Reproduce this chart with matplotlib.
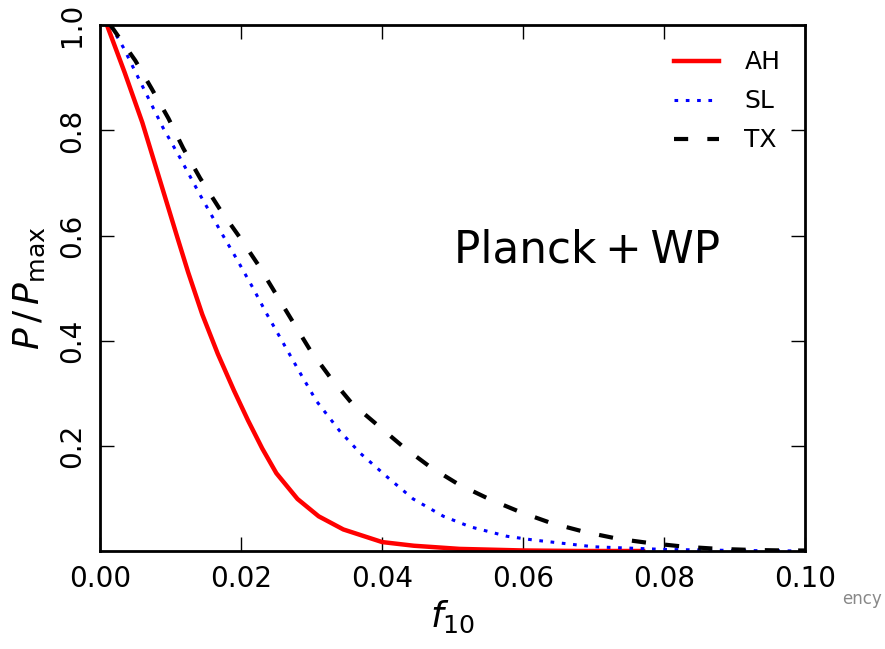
import numpy as np
import matplotlib
matplotlib.use("Agg")
import matplotlib.pyplot as plt

plt.rcParams['font.family'] = ['DejaVu Sans']
plt.rcParams['mathtext.fontset'] = 'dejavusans'

# posterior curves
f_ah = [0.001, 0.0035, 0.006, 0.0085, 0.011, 0.0125, 0.0145, 0.0167, 0.019, 0.021, 0.023, 0.025,
        0.028, 0.031, 0.0345, 0.040, 0.0445, 0.051, 0.060, 0.068, 0.077]
p_ah = [1.000, 0.910, 0.815, 0.705, 0.595, 0.530, 0.450, 0.375, 0.305, 0.248, 0.195, 0.148,
        0.099, 0.066, 0.041, 0.017, 0.010, 0.004, 0.001, 0.000, 0.000]

f_sl = [0.0015, 0.0033, 0.0061, 0.0089, 0.0113, 0.0142, 0.0174, 0.0194, 0.0217, 0.0236, 0.026,
        0.0284, 0.0307, 0.034, 0.0369, 0.0407, 0.0444, 0.0487, 0.0525, 0.0577, 0.0614, 0.070,
        0.080, 0.090, 0.100]
p_sl = [1.000, 0.958, 0.882, 0.806, 0.749, 0.677, 0.601, 0.555, 0.500, 0.452, 0.395,
        0.338, 0.285, 0.228, 0.186, 0.141, 0.099, 0.066, 0.046, 0.028, 0.021, 0.008,
        0.003, 0.001, 0.000]

f_tx = [0.0015, 0.005, 0.0073, 0.0097, 0.0118, 0.0142, 0.017, 0.0199, 0.0224, 0.0248, 0.0272,
        0.0298, 0.0326, 0.0357, 0.0393, 0.043, 0.0468, 0.0508, 0.0553, 0.0596, 0.064, 0.0688,
        0.0735, 0.078, 0.083, 0.0877, 0.0925, 0.097, 0.100]
p_tx = [1.000, 0.933, 0.880, 0.823, 0.766, 0.709, 0.650, 0.595, 0.545, 0.492, 0.439,
        0.382, 0.331, 0.281, 0.240, 0.198, 0.160, 0.127, 0.098, 0.074, 0.053, 0.036,
        0.023, 0.015, 0.008, 0.004, 0.002, 0.001, 0.001]

xticks = [0.00, 0.02, 0.04, 0.06, 0.08, 0.10]
yticks = [0.2, 0.4, 0.6, 0.8, 1.0]

fig = plt.figure(figsize=(8.85, 6.49), dpi=100)
ax = fig.add_axes([0.113, 0.151, 0.797, 0.810])

ax.plot(f_ah, p_ah, color='red', lw=3.2, ls='-', label='AH')
ax.plot(f_sl, p_sl, color='blue', lw=2.2, ls=':', dashes=(1.2, 2.5), label='SL')
ax.plot(f_tx, p_tx, color='black', lw=3.0, ls='--', dashes=(3.4, 4.6), label='TX')

ax.set_xlim(0, 0.1)
ax.set_ylim(0, 1.0)
ax.set_xticks(xticks)
ax.set_xticklabels(['%.2f' % v for v in xticks])
ax.set_yticks(yticks)
ax.set_yticklabels(['%.1f' % v for v in yticks], rotation=90, va='center')
ax.tick_params(direction='in', length=10, width=1, top=True, right=True, labelsize=20, pad=10)
for s in ax.spines.values():
    s.set_linewidth(2)

ax.set_xlabel(r'$f_{10}$', fontsize=26, labelpad=4)
ax.set_ylabel(r'$P\,/\,P_{\rm max}$', fontsize=26, labelpad=8)

ax.text(0.0502, 0.572, 'Planck\u2009+\u2009WP', fontsize=31.5, va='center', ha='left')

leg = ax.legend(loc='upper right', frameon=False, fontsize=18, handlelength=1.8,
                handletextpad=1.0, labelspacing=0.6, borderaxespad=0.6)

fig.text(0.951, 0.07, 'ency', fontsize=12, color='#888888')

fig.savefig('out.png', dpi=100)
